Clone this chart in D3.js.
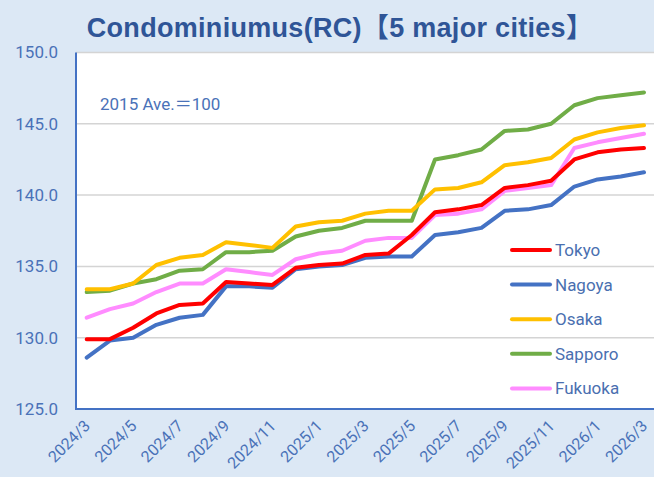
<!DOCTYPE html>
<html><head><meta charset="utf-8">
<script src="https://cdn.jsdelivr.net/npm/d3@7"></script>
<style>html,body{margin:0;padding:0;background:#dce8f5;}svg{display:block;}</style>
</head><body>
<svg id="c" width="654" height="477"></svg>
<script>
const months = ["2024/3","2024/4","2024/5","2024/6","2024/7","2024/8","2024/9","2024/10","2024/11","2024/12",
"2025/1","2025/2","2025/3","2025/4","2025/5","2025/6","2025/7","2025/8","2025/9","2025/10","2025/11","2025/12",
"2026/1","2026/2","2026/3"];
const tokyo   = [129.9,129.9,130.7,131.7,132.3,132.4,133.9,133.8,133.7,134.9,135.1,135.2,135.8,135.9,137.2,138.8,139.0,139.3,140.5,140.7,141.0,142.5,143.0,143.2,143.3];
const nagoya  = [128.6,129.8,130.0,130.9,131.4,131.6,133.6,133.6,133.5,134.8,135.0,135.1,135.6,135.7,135.7,137.2,137.4,137.7,138.9,139.0,139.3,140.6,141.1,141.3,141.6];
const osaka   = [133.4,133.4,133.8,135.1,135.6,135.8,136.7,136.5,136.3,137.8,138.1,138.2,138.7,138.9,138.9,140.4,140.5,140.9,142.1,142.3,142.6,143.9,144.4,144.7,144.9];
const sapporo = [133.2,133.3,133.8,134.1,134.7,134.8,136.0,136.0,136.1,137.1,137.5,137.7,138.2,138.2,138.2,142.5,142.8,143.2,144.5,144.6,145.0,146.3,146.8,147.0,147.2];
const fukuoka = [131.4,132.0,132.4,133.2,133.8,133.8,134.8,134.6,134.4,135.5,135.9,136.1,136.8,137.0,137.0,138.6,138.7,139.0,140.3,140.5,140.7,143.3,143.7,144.0,144.3];
const seriesNames = ["Tokyo","Nagoya","Osaka","Sapporo","Fukuoka"];
const seriesColors = ["#ff0000","#4472c4","#ffc000","#70ad47","#ff8cff"];
const yTicks = [125,130,135,140,145,150];
const xLabelEvery = 2;

const series = [tokyo,nagoya,osaka,sapporo,fukuoka];
const svg = d3.select("#c");
const plot = {left:76, right:654, top:52.5, bottom:409};

svg.append("rect").attr("width",654).attr("height",477).attr("fill","#dce8f5");
svg.append("rect").attr("x",plot.left).attr("y",plot.top).attr("width",plot.right-plot.left).attr("height",plot.bottom-plot.top).attr("fill","#ffffff");

const x = d3.scaleLinear().domain([0,months.length-1]).range([86.7,644]);
const y = d3.scaleLinear().domain([125,150]).range([plot.bottom,plot.top]);

// gridlines
svg.append("g").selectAll("line").data(yTicks.filter(v=>v>125)).join("line")
  .attr("x1",plot.left).attr("x2",plot.right)
  .attr("y1",d=>y(d)).attr("y2",d=>y(d))
  .attr("stroke","#d4d4d4").attr("stroke-width",1.5);

// y axis labels
const yAxis = d3.axisLeft(y).tickValues(yTicks).tickFormat(d3.format(".1f")).tickSize(0).tickPadding(0);
const yg = svg.append("g").attr("transform","translate(58,0)").call(yAxis);
yg.select(".domain").remove();
yg.selectAll("text").attr("fill","#4a72b8").style("font-family","Roboto, 'Liberation Sans', sans-serif").style("font-size","17px");

// x axis labels
const xAxis = d3.axisBottom(x).tickValues(d3.range(0,months.length,xLabelEvery)).tickFormat(i=>months[i]).tickSize(0).tickPadding(0);
const xg = svg.append("g").attr("transform",`translate(0,${plot.bottom})`).call(xAxis);
xg.select(".domain").remove();
xg.selectAll("text")
  .attr("fill","#4a72b8").style("font-family","Roboto, 'Liberation Sans', sans-serif").style("font-size","16px")
  .attr("text-anchor","end").attr("dy","0.35em").attr("y",0)
  .attr("transform","translate(0,14) rotate(-45)");

// axis lines
svg.append("line").attr("x1",plot.left).attr("x2",plot.left).attr("y1",plot.top).attr("y2",plot.bottom+1)
  .attr("stroke","#4472c4").attr("stroke-width",2);
svg.append("line").attr("x1",plot.left-1).attr("x2",plot.right).attr("y1",plot.bottom).attr("y2",plot.bottom)
  .attr("stroke","#4472c4").attr("stroke-width",2);

// lines
const line = d3.line().x((d,i)=>x(i)).y(d=>y(d));
const drawOrder = [4,3,2,1,0];
drawOrder.forEach(k=>{
  svg.append("path").datum(series[k]).attr("d",line)
    .attr("fill","none").attr("stroke",seriesColors[k]).attr("stroke-width",4)
    .attr("stroke-linejoin","round").attr("stroke-linecap","round");
});

// legend
const lg = svg.append("g");
seriesNames.forEach((n,i)=>{
  const yy = 250 + i*34.6;
  lg.append("line").attr("x1",512).attr("x2",550).attr("y1",yy).attr("y2",yy)
    .attr("stroke",seriesColors[i]).attr("stroke-width",4).attr("stroke-linecap","round");
  lg.append("text").attr("x",555).attr("y",yy).attr("dy","0.35em").text(n)
    .attr("fill","#4a6fb0").style("font-family","Roboto, 'Liberation Sans', sans-serif").style("font-size","17px");
});

// annotation
svg.append("text").attr("x",100).attr("y",110).text("2015 Ave.＝100")
  .attr("fill","#4a72b8").style("font-family","Roboto, 'Noto Sans CJK JP', sans-serif").style("font-size","17px");

// title
svg.append("text").attr("x",340).attr("y",37).attr("text-anchor","middle")
  .text("Condominiumus(RC)【5 major cities】")
  .attr("fill","#2f5597").style("font-family","'Liberation Sans', 'Noto Sans CJK JP', sans-serif")
  .style("font-size","27px").style("font-weight","bold").style("letter-spacing","0.3px");
</script>
</body></html>
